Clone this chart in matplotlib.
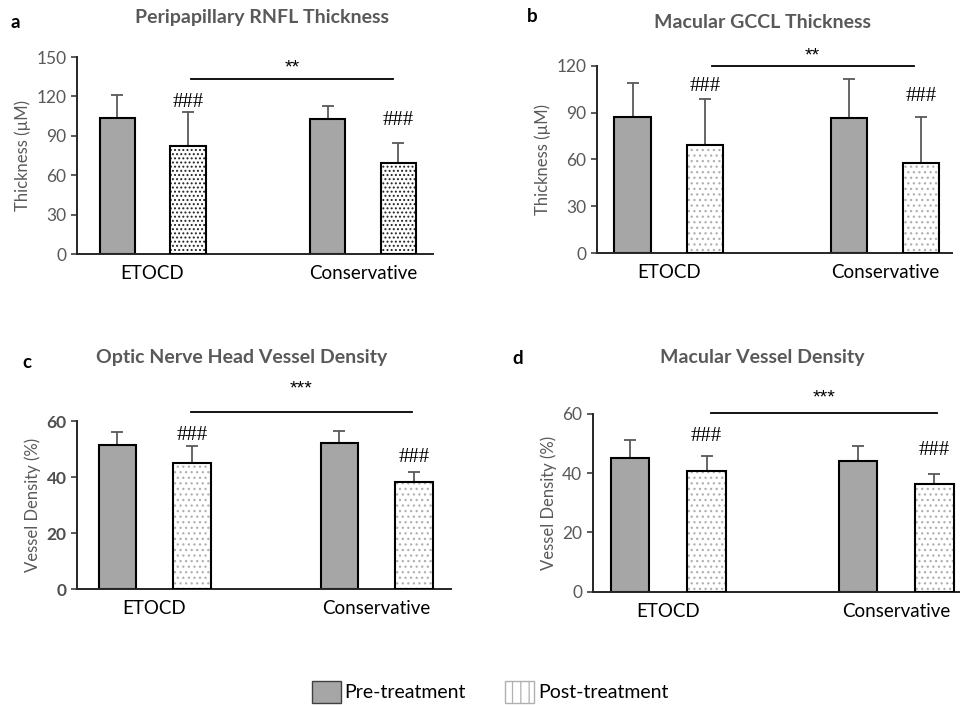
import matplotlib
matplotlib.use("Agg")
import matplotlib.pyplot as plt
from matplotlib.patches import Patch

plt.rcParams['font.family'] = ['Lato', 'DejaVu Sans']
plt.rcParams['hatch.linewidth'] = 0.9

# ---- data ----
groups = ["ETOCD", "Conservative"]
series = ["Pre-treatment", "Post-treatment"]
titles = ["Peripapillary RNFL Thickness", "Macular GCCL Thickness",
          "Optic Nerve Head Vessel Density", "Macular Vessel Density"]
panel_letters = ["a", "b", "c", "d"]
ylabels = ["Thickness (\u00b5M)", "Thickness (\u00b5M)",
           "Vessel Density (%)", "Vessel Density (%)"]
yticks = [[0, 30, 60, 90, 120, 150], [0, 30, 60, 90, 120],
          [0, 20, 40, 60], [0, 20, 40, 60]]

pre_mean = [[103.8, 102.6], [87.4, 86.4], [51.5, 52.1], [45.0, 44.1]]
pre_err = [[17.5, 10.4], [21.3, 25.1], [4.5, 4.4], [6.2, 5.2]]
post_mean = [[82.2, 69.5], [69.1, 57.6], [44.9, 38.3], [40.6, 36.4]]
post_err = [[25.9, 15.3], [29.4, 29.4], [6.2, 3.5], [5.3, 3.3]]

sig_labels = ["**", "**", "***", "***"]
sig_line_y = [133.3, 120, 63.2, 60.2]
hash_label = "###"

# ---- layout (figure pixels 960x705) ----
W, H = 960, 705
ax_px = [(77, 433, 57, 254), (596.7, 952, 65.7, 253.3),
         (77, 450.7, 421, 589), (592.7, 960, 414, 591.7)]
xlims = [(-0.359, 1.333), (-0.334, 1.31), (-0.349, 1.333), (-0.332, 1.28)]
sig_x = [(0.183, 1.142), (0.199, 1.132), (0.164, 1.158), (0.186, 1.18)]
star_y = [142, 126, 71.5, 65.5]
hash_y = [(115, 102), (107, 100), (55, 47), (52.3, 47.8)]
title_xy = [(262, 18), (763, 22), (242, 358), (762, 358)]
letter_xy = [(15, 22), (532, 16), (27, 363), (518, 359)]

GRAY = "#A6A6A6"
TXT = "#595959"
width = 0.168

fig = plt.figure(figsize=(W / 100, H / 100), dpi=100)

for i in range(4):
    l, r, t, b = ax_px[i]
    ax = fig.add_axes([l / W, 1 - b / H, (r - l) / W, (b - t) / H])
    x = [0, 1]
    xpre = [v - width for v in x]
    xpost = [v + width for v in x]

    ax.bar(xpre, pre_mean[i], width, color=GRAY, edgecolor="black",
           linewidth=1.5, zorder=2)
    ax.errorbar(xpre, pre_mean[i], yerr=[[0, 0], pre_err[i]], fmt="none",
                ecolor=TXT, elinewidth=1.3, capsize=4, capthick=1.3, zorder=1)

    dot_col = "#222222" if i == 0 else "#b0b0b0"
    ax.bar(xpost, post_mean[i], width, color="white", edgecolor=dot_col,
           hatch="...." if i == 0 else "...", linewidth=0, zorder=2)
    ax.bar(xpost, post_mean[i], width, color="none", edgecolor="black",
           linewidth=1.5, zorder=3)
    ax.errorbar(xpost, post_mean[i], yerr=[[0, 0], post_err[i]], fmt="none",
                ecolor=TXT, elinewidth=1.3, capsize=4, capthick=1.3, zorder=1)

    for j in range(2):
        ax.text(xpost[j], hash_y[i][j], hash_label, ha="center", va="center",
                fontsize=15, family="Liberation Serif", color="black")

    ax.plot(sig_x[i], [sig_line_y[i]] * 2, color="black", lw=1.3,
            clip_on=False)
    ax.text(sum(sig_x[i]) / 2, star_y[i], sig_labels[i], ha="center",
            va="center", fontsize=14, color="black",
            family="Liberation Sans")

    ax.set_xlim(*xlims[i])
    ax.set_ylim(0, yticks[i][-1])
    ax.set_yticks(yticks[i])
    ax.set_xticks(x)
    ax.set_xticklabels(groups, fontsize=13.5, color="black")
    ax.tick_params(axis="x", length=0, pad=8)
    ax.tick_params(axis="y", length=4, width=1.2, colors="#404040",
                   labelsize=12.5, labelcolor=TXT, direction="out")
    if i == 2:
        for lab in ax.get_yticklabels():
            lab.set_fontweight("bold")
            lab.set_color("#505050")
    ax.set_ylabel(ylabels[i], fontsize=12, color=TXT, labelpad=4)
    for s in ["top", "right"]:
        ax.spines[s].set_visible(False)
    for s in ["left", "bottom"]:
        ax.spines[s].set_linewidth(1.4)
        ax.spines[s].set_color("#262626")

    tx, ty = title_xy[i]
    fig.text(tx / W, 1 - ty / H, titles[i], ha="center", va="center",
             fontsize=14, fontweight="bold", color=TXT)
    lx, ly = letter_xy[i]
    fig.text(lx / W, 1 - ly / H, panel_letters[i], ha="center", va="center",
             fontsize=13.5, fontweight="bold", color="black")

handles = [Patch(facecolor=GRAY, edgecolor="#404040", linewidth=1.0),
           Patch(facecolor="white", edgecolor="#b0b0b0", hatch="||",
                 linewidth=1.0)]
fig.legend(handles, series, loc="center", bbox_to_anchor=(490 / W, 1 - 692 / H),
           ncol=2, frameon=False, fontsize=14, handlelength=1.5,
           handleheight=1.4, handletextpad=0.2, columnspacing=2.0)

fig.savefig("out.png", dpi=100)
